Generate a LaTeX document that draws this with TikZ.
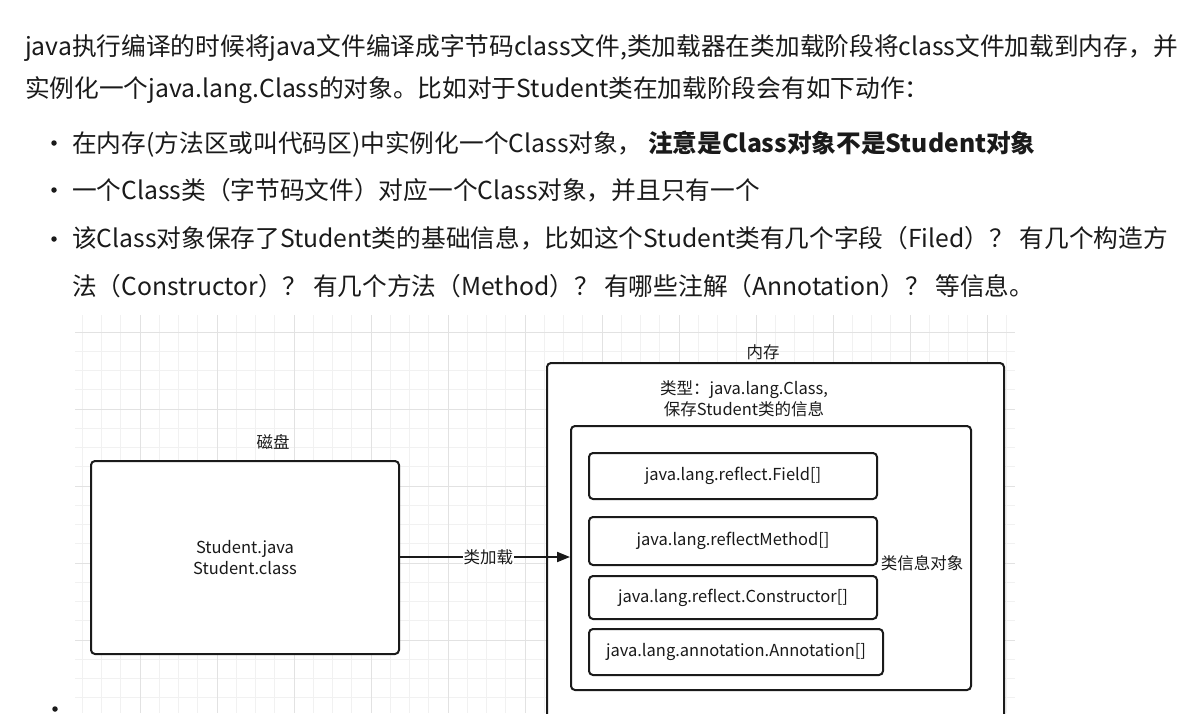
\documentclass[tikz,border=0pt]{standalone}
\usepackage{fontspec}
\setmainfont{Noto Sans CJK SC}
\usetikzlibrary{arrows.meta}
\definecolor{ink}{HTML}{1A1A1A}
\definecolor{gridmajor}{HTML}{E2E2E2}
\definecolor{gridminor}{HTML}{F1F1F1}
\tikzset{
  para/.style={anchor=base west, inner sep=0pt, text=ink, font=\fontsize{24.7}{30}\selectfont},
  dot/.style={circle, fill=ink, minimum size=5.5pt, inner sep=0pt},
  box/.style={draw=ink, line width=2pt, rounded corners=4pt, inner sep=0pt, fill=white},
  lbl/.style={inner sep=0pt, text=ink, font=\fontsize{16.5}{21}\selectfont, align=center},
  conn/.style={draw=ink, line width=2pt, -{Triangle[length=13pt,width=10pt]}},
}
\begin{document}
\begin{tikzpicture}[x=1pt,y=-1pt]
\useasboundingbox (0,0) rectangle (1189,713);
\clip (0,0) rectangle (1189,713);
\fill[white] (0,0) rectangle (1189,713);
% grid
\foreach \i in {0,...,48} {
  \draw[gridminor, line width=0.8pt] ({82.25+\i*19.25},315) -- ({82.25+\i*19.25},713);
}
\foreach \j in {0,...,20} {
  \draw[gridminor, line width=0.8pt] (75,{332+\j*19.25}) -- (1015,{332+\j*19.25});
}
\foreach \i in {0,...,11} {
  \draw[gridmajor, line width=1pt] ({140+\i*77},315) -- ({140+\i*77},713);
}
\foreach \j in {0,...,5} {
  \draw[gridmajor, line width=1pt] (75,{332+\j*77}) -- (1015,{332+\j*77});
}
% paragraph text
\node[para] (t1) at (25,55) {java执行编译的时候将java文件编译成字节码class文件,类加载器在类加载阶段将class文件加载到内存，并};
\node[para] (t2) at (25,97) {实例化一个java.lang.Class的对象。比如对于Student类在加载阶段会有如下动作：};
\node[dot] (d1) at (54,143) {};
\node[para] (b1) at (72,152) {在内存(方法区或叫代码区)中实例化一个Class对象， \textbf{注意是Class对象不是Student对象}};
\node[dot] (d2) at (54,190) {};
\node[para] (b2) at (72,199) {一个Class类（字节码文件）对应一个Class对象，并且只有一个};
\node[dot] (d3) at (54,239) {};
\node[para] (b3) at (72,247) {该Class对象保存了Student类的基础信息，比如这个Student类有几个字段（Filed）？ 有几个构造方};
\node[para] (b4) at (72,295) {法（Constructor）？ 有几个方法（Method）？ 有哪些注解（Annotation）？ 等信息。};
\node[dot] (d4) at (55,709) {};
% diagram
\node[lbl] (diskl) at (273,442) {磁盘};
\node[box, minimum width=308pt, minimum height=193pt] (disk) at (245,557.5) {};
\node[lbl] (disktxt) at (245,558) {Student.java\\Student.class};
\node[lbl] (meml) at (763,352) {内存};
\node[box, minimum width=457pt, minimum height=400pt] (mem) at (775.5,563) {};
\node[lbl, text width=300pt] (memtxt) at (744,399) {类型：java.lang.Class,\\保存Student类的信息};
\node[box, minimum width=400pt, minimum height=264pt] (inner) at (771,558) {};
\node[lbl] (innerl) at (922,563) {类信息对象};
\node[box, minimum width=288pt, minimum height=46pt] (f1) at (733,476) {};
\node[lbl] at (f1) {java.lang.reflect.Field[]};
\node[box, minimum width=288pt, minimum height=48pt] (f2) at (733,541) {};
\node[lbl] at (f2) {java.lang.reflectMethod[]};
\node[box, minimum width=288pt, minimum height=43pt] (f3) at (733,597.5) {};
\node[lbl] at (f3) {java.lang.reflect.Constructor[]};
\node[box, minimum width=294pt, minimum height=46pt] (f4) at (736,652) {};
\node[lbl] at (f4) {java.lang.annotation.Annotation[]};
\draw[conn] (disk.east |- 0,557) -- (inner.west |- 0,557) node[pos=0.52, fill=white, lbl, inner xsep=1pt] (arrl) {类加载};
\end{tikzpicture}
\end{document}
